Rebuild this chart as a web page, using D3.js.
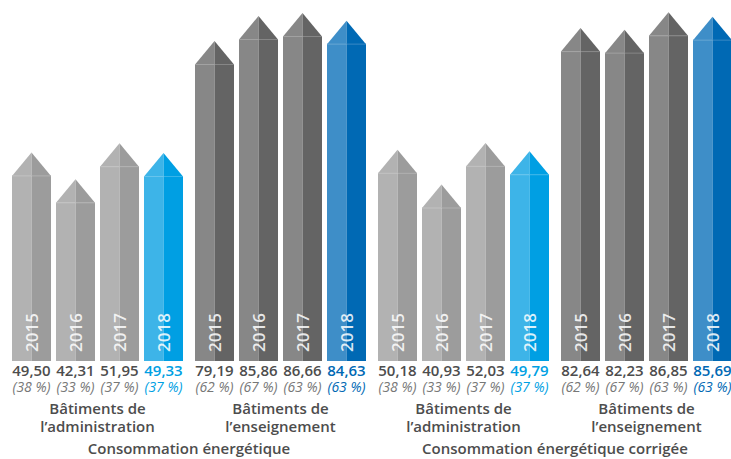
<!DOCTYPE html>
<html><head><meta charset="utf-8">
<script src="https://cdn.jsdelivr.net/npm/d3@7"></script>
<style>
html,body{margin:0;padding:0;background:#fff;}
svg{display:block;}
</style></head>
<body>
<svg id="chart" width="731" height="459"></svg>
<script>
const years = ["2015","2016","2017","2018"];
const groups = ["adm1","ens1","adm2","ens2"];
const groupLine1 = ["Bâtiments de","Bâtiments de","Bâtiments de","Bâtiments de"];
const groupLine2 = ["l\u2019administration","l\u2019enseignement","l\u2019administration","l\u2019enseignement"];
const sectionTitles = ["Consommation énergétique","Consommation énergétique corrigée"];
const valuesAdm1 = [49.50, 42.31, 51.95, 49.33];
const valuesEns1 = [79.19, 85.86, 86.66, 84.63];
const valuesAdm2 = [50.18, 40.93, 52.03, 49.79];
const valuesEns2 = [82.64, 82.23, 86.85, 85.69];
const pctAdm = ["38","33","37","37"];
const pctEns = ["62","67","63","63"];

const values = [valuesAdm1, valuesEns1, valuesAdm2, valuesEns2];
const pcts = [pctAdm, pctEns, pctAdm, pctEns];
const kinds = ["adm","ens","adm","ens"];
const palette = {
  adm: {L:"#b2b2b2", R:"#9c9c9c", hL:"#3db4e8", hR:"#009fe3", text:"#009fe3"},
  ens: {L:"#878787", R:"#646464", hL:"#3e8ec8", hR:"#0069b4", text:"#0069b4"}
};

const svg = d3.select("#chart");
const base = 361;
const tip = 23;
const x0 = d3.scaleBand().domain(groups).range([12, 732]).paddingInner(12/183).paddingOuter(0);
const x1 = d3.scaleBand().domain(years).range([0, x0.bandwidth()]).paddingInner(5/44).paddingOuter(0);
const y = d3.scaleLinear().domain([0, 100]).range([base, base - 375]);

const font = "'Open Sans', sans-serif";

groups.forEach((g, gi) => {
  const gx = x0(g);
  const pal = palette[kinds[gi]];
  const G = svg.append("g").attr("transform", `translate(${gx},0)`);
  years.forEach((yr, i) => {
    const v = values[gi][i];
    const bx = x1(yr), bw = x1.bandwidth(), mid = bx + bw/2;
    const sh = y(v);
    const hi = yr === "2018";
    const cL = hi ? pal.hL : pal.L, cR = hi ? pal.hR : pal.R;
    G.append("rect").attr("x", bx).attr("y", sh).attr("width", bw/2).attr("height", base - sh).attr("fill", cL);
    G.append("rect").attr("x", mid).attr("y", sh).attr("width", bw/2).attr("height", base - sh).attr("fill", cR);
    G.append("path").attr("d", `M${bx},${sh+0.5}L${mid},${sh-tip}L${mid},${sh+0.5}Z`).attr("fill", cL);
    G.append("path").attr("d", `M${mid},${sh+0.5}L${mid},${sh-tip}L${bx+bw},${sh+0.5}Z`).attr("fill", cR);
    G.append("line").attr("x1", bx).attr("x2", bx+bw).attr("y1", sh+0.5).attr("y2", sh+0.5)
      .attr("stroke", "#fff").attr("stroke-opacity", 0.22).attr("stroke-width", 1);
    G.append("text").attr("transform", `translate(${mid+6},${base-9}) rotate(-90)`)
      .attr("font-family", font).attr("font-size", 17).attr("font-weight", 600).attr("fill", "#fff").attr("fill-opacity", 0.85)
      .text(yr);
    G.append("text").attr("x", mid).attr("y", 376).attr("text-anchor", "middle")
      .attr("font-family", font).attr("font-size", 15).attr("font-weight", 600)
      .attr("fill", hi ? pal.text : "#4d4d4d")
      .text(d3.format(".2f")(v).replace(".", ","));
    G.append("text").attr("x", mid).attr("y", 392).attr("text-anchor", "middle")
      .attr("font-family", font).attr("font-size", 14).attr("font-style", "italic")
      .attr("fill", hi ? pal.text : "#777")
      .text(`(${pcts[gi][i]} %)`);
  });
  const cx = x0.bandwidth()/2;
  G.append("text").attr("x", cx).attr("y", 414).attr("text-anchor", "middle")
    .attr("font-family", font).attr("font-size", 15).attr("font-weight", 600).attr("fill", "#4d4d4d")
    .text(groupLine1[gi]);
  G.append("text").attr("x", cx).attr("y", 432).attr("text-anchor", "middle")
    .attr("font-family", font).attr("font-size", 15).attr("font-weight", 600).attr("fill", "#4d4d4d")
    .text(groupLine2[gi]);
});

sectionTitles.forEach((t, si) => {
  const a = groups[si*2], b = groups[si*2+1];
  const cx = (x0(a) + x0.bandwidth()/2 + x0(b) + x0.bandwidth()/2) / 2;
  svg.append("text").attr("x", cx).attr("y", 454).attr("text-anchor", "middle")
    .attr("font-family", font).attr("font-size", 15).attr("font-weight", 600).attr("fill", "#4d4d4d")
    .text(t);
});
</script>
</body></html>
